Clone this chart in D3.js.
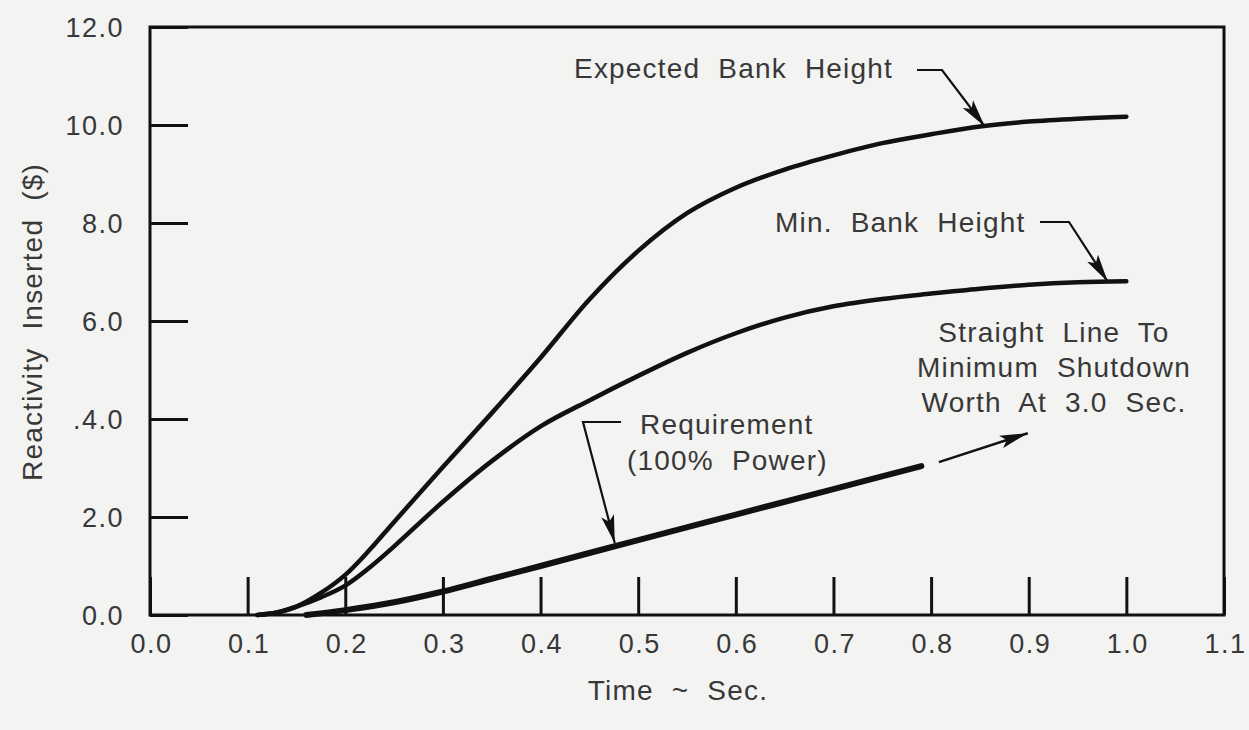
<!DOCTYPE html>
<html>
<head>
<meta charset="utf-8">
<style>
  body { margin: 0; background: #f3f3f1; }
  svg { display: block; background: #f3f3f1; }
  text { font-family: "Liberation Sans", Arial, Helvetica, sans-serif; fill: #383838; }
</style>
</head>
<body>
<svg width="1249" height="730"></svg>
<script src="https://d3js.org/d3.v7.min.js"></script>
<script>
  // tick values and labels as printed on the figure
  var xTicks = [0, 0.1, 0.2, 0.3, 0.4, 0.5, 0.6, 0.7, 0.8, 0.9, 1.0, 1.1];
  var xTickLabels = ["0.0", "0.1", "0.2", "0.3", "0.4", "0.5", "0.6", "0.7", "0.8", "0.9", "1.0", "1.1"];
  var yTicks = [0, 2, 4, 6, 8, 10, 12];
  var yTickLabels = ["0.0", "2.0", ".4.0", "6.0", "8.0", "10.0", "12.0"];

  // [time (s), reactivity ($)]
  var expectedBank = [
    [0.11, 0], [0.13, 0.05], [0.15, 0.17], [0.175, 0.45], [0.2, 0.82], [0.225, 1.33],
    [0.25, 1.9], [0.3, 3.02], [0.35, 4.12], [0.4, 5.25], [0.45, 6.44], [0.5, 7.43],
    [0.55, 8.2], [0.6, 8.72], [0.65, 9.09], [0.7, 9.38], [0.75, 9.63], [0.8, 9.81],
    [0.85, 9.97], [0.9, 10.07], [0.95, 10.13], [1.0, 10.17]
  ];
  var minBank = [
    [0.11, 0], [0.13, 0.05], [0.15, 0.17], [0.175, 0.36], [0.2, 0.6], [0.225, 0.97],
    [0.25, 1.4], [0.3, 2.31], [0.35, 3.14], [0.4, 3.85], [0.45, 4.38], [0.5, 4.88],
    [0.55, 5.35], [0.6, 5.75], [0.65, 6.07], [0.7, 6.3], [0.75, 6.45], [0.8, 6.56],
    [0.85, 6.66], [0.9, 6.74], [0.95, 6.79], [1.0, 6.81]
  ];
  var requirement = [
    [0.16, 0], [0.2, 0.1], [0.25, 0.26], [0.3, 0.48], [0.35, 0.74], [0.4, 1.0],
    [0.5, 1.53], [0.6, 2.05], [0.7, 2.57], [0.79, 3.04]
  ];
  // thin arrow toward the 3.0 s shutdown worth
  var extension = [[0.808, 3.12], [0.899, 3.71]];

  var svg = d3.select("svg"),
      margin = {top: 27, left: 150},
      width = 1074,
      height = 588;

  var x = d3.scaleLinear().domain([0, 1.1]).range([margin.left, margin.left + width]);
  var y = d3.scaleLinear().domain([0, 12]).range([margin.top + height, margin.top]);

  var ink = "#111";

  var defs = svg.append("defs");
  defs.append("marker")
      .attr("id", "head")
      .attr("viewBox", "-28 -7 28 14")
      .attr("refX", 0).attr("refY", 0)
      .attr("markerWidth", 28).attr("markerHeight", 14)
      .attr("markerUnits", "userSpaceOnUse")
      .attr("orient", "auto")
    .append("path")
      .attr("d", "M-28,-6.5L0,0L-28,6.5L-22,0Z")
      .attr("fill", ink);

  // frame
  svg.append("rect")
      .attr("x", x(0)).attr("y", y(12))
      .attr("width", x(1.1) - x(0)).attr("height", y(0) - y(12))
      .attr("fill", "none").attr("stroke", ink).attr("stroke-width", 3);

  // inward ticks
  var yAxis = svg.append("g")
      .attr("transform", "translate(" + x(0) + ",0)")
      .call(d3.axisLeft(y).tickValues(yTicks).tickSize(-38).tickPadding(27)
        .tickFormat(function(d, i) { return yTickLabels[i]; }));
  var xAxis = svg.append("g")
      .attr("transform", "translate(0," + y(0) + ")")
      .call(d3.axisBottom(x).tickValues(xTicks).tickSize(-38).tickPadding(0)
        .tickFormat(function(d, i) { return xTickLabels[i]; }));

  [xAxis, yAxis].forEach(function(a) {
    a.select(".domain").remove();
    a.selectAll(".tick line").attr("stroke", ink).attr("stroke-width", 3);
    a.selectAll(".tick text")
        .attr("fill", "#383838")
        .style("font-size", "27px")
        .style("font-family", "'Liberation Sans', Arial, sans-serif")
        .style("letter-spacing", "1.5px");
  });
  yAxis.selectAll(".tick text").attr("dy", "0.36em").attr("x", -26);
  xAxis.selectAll(".tick text").attr("y", 38).attr("dy", 0).attr("dx", "1px");

  var line = d3.line()
      .x(function(d) { return x(d[0]); })
      .y(function(d) { return y(d[1]); })
      .curve(d3.curveCatmullRom.alpha(0.5));

  [expectedBank, minBank].forEach(function(s) {
    svg.append("path")
        .datum(s)
        .attr("fill", "none")
        .attr("stroke", ink)
        .attr("stroke-width", 4.5)
        .attr("stroke-linecap", "round")
        .attr("d", line);
  });

  svg.append("path")
      .datum(requirement)
      .attr("fill", "none")
      .attr("stroke", ink)
      .attr("stroke-width", 6)
      .attr("stroke-linecap", "round")
      .attr("d", line);

  svg.append("path")
      .datum(extension)
      .attr("fill", "none")
      .attr("stroke", ink)
      .attr("stroke-width", 2.5)
      .attr("marker-end", "url(#head)")
      .attr("d", d3.line().x(function(d) { return x(d[0]); }).y(function(d) { return y(d[1]); }));

  // leader lines from labels to curves
  function leader(points) {
    svg.append("path")
        .attr("fill", "none")
        .attr("stroke", ink)
        .attr("stroke-width", 2.2)
        .attr("marker-end", "url(#head)")
        .attr("d", "M" + points.map(function(p) { return p.join(","); }).join("L"));
  }
  leader([[917, 70], [942, 70], [x(0.855), y(9.97)]]);
  leader([[1040, 222], [1069, 222], [x(0.981), y(6.8)]]);
  leader([[621, 422], [583, 422], [x(0.476), y(1.47)]]);

  function label(txt, tx, ty, anchor) {
    return svg.append("text")
        .attr("x", tx).attr("y", ty)
        .attr("text-anchor", anchor || "start")
        .style("font-size", "28px")
        .style("letter-spacing", "1.2px")
        .style("word-spacing", "9px")
        .text(txt);
  }
  label("Expected Bank Height", 574, 78);
  label("Min. Bank Height", 775, 232);
  label("Requirement", 640, 434);
  label("(100% Power)", 627, 470);
  label("Straight Line To", 1054, 342, "middle");
  label("Minimum Shutdown", 1054, 377, "middle");
  label("Worth At 3.0 Sec.", 1054, 412, "middle");

  // axis titles
  label("Time ~ Sec.", 678, 700, "middle");
  label("Reactivity Inserted ($)", 0, 0, "middle")
      .attr("transform", "translate(42,322) rotate(-90)");
</script>
</body>
</html>
